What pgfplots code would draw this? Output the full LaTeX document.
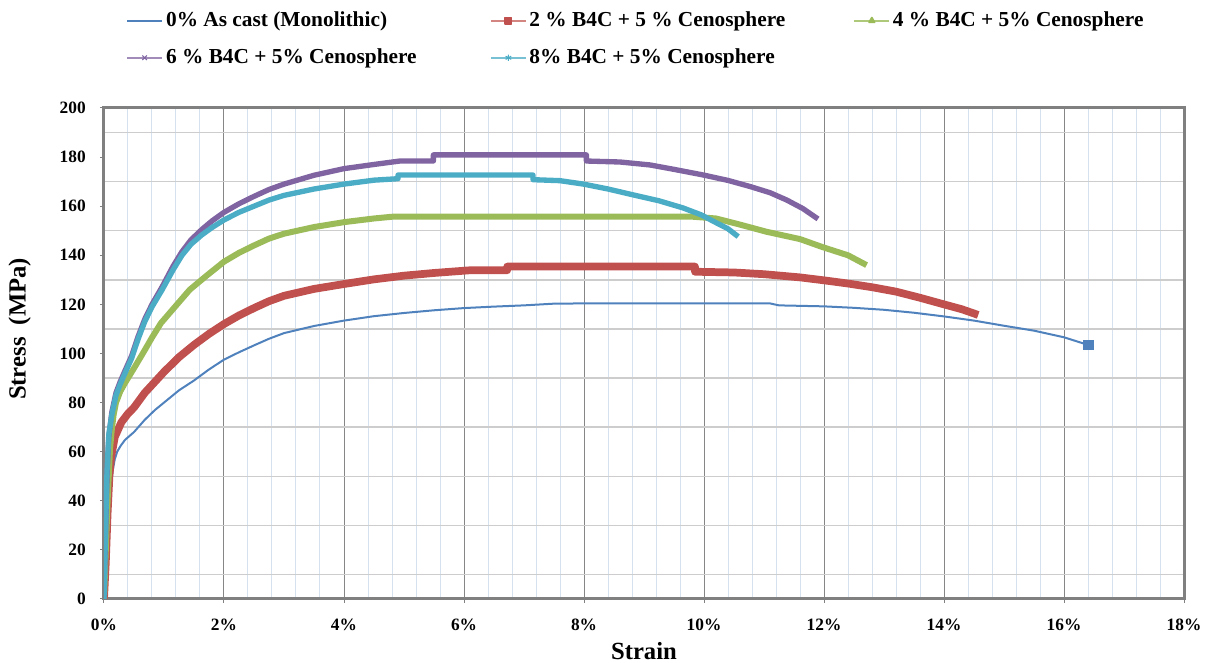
\documentclass[border=0pt]{standalone}
\usepackage{fontspec}
\setmainfont{Liberation Serif}
\usepackage{pgfplots}
\pgfplotsset{compat=1.18}
\definecolor{cBlue}{HTML}{4F81BD}
\definecolor{cRed}{HTML}{C0504D}
\definecolor{cGreen}{HTML}{9BBB59}
\definecolor{cPurple}{HTML}{8064A2}
\definecolor{cCyan}{HTML}{4BACC6}
\definecolor{gridDark}{RGB}{134,134,134}
\definecolor{gridBlue}{RGB}{214,225,240}
\definecolor{gridGray}{RGB}{205,205,205}
\definecolor{frameGray}{RGB}{128,128,128}
\begin{document}
\begin{tikzpicture}
\path[use as bounding box] (-78pt,-48pt) rectangle (827.25pt,449.25pt);
\begin{axis}[
  scale only axis, width=810pt, height=368.25pt,
  xmin=0, xmax=18, ymin=0, ymax=200,
  xtick={0,2,...,18}, ytick={0,20,...,200},
  minor x tick num=4, minor y tick num=1,
  xmajorgrids, xminorgrids, yminorgrids,
  major x grid style={draw=gridDark, line width=0.75pt},
  minor x grid style={draw=gridBlue, line width=0.75pt},
  minor y grid style={draw=gridGray, line width=1.1pt},
  axis line style={draw=frameGray, line width=2.25pt},
  tick pos=left, tick align=outside, major tick length=3pt, minor tick length=0pt,
  every tick/.style={draw=frameGray, line width=0.75pt},
  /pgf/number format/assume math mode=true,
  xticklabel={\pgfmathprintnumber{\tick}\%},
  ticklabel style={font=\bfseries\fontsize{13}{15}\selectfont},
  xticklabel style={anchor=base, yshift=-21pt},
  yticklabel style={anchor=east, inner sep=0pt, xshift=-10.5pt},
  xlabel={Strain}, ylabel={Stress~~(MPa)},
  label style={font=\bfseries\fontsize{18.5}{21}\selectfont},
  xlabel style={at={(axis description cs:0.5,0)}, anchor=base, yshift=-45.75pt},
  ylabel style={at={(axis description cs:-0.078,0.55)}, anchor=center},
  legend columns=3, legend cell align=left,
  legend style={draw=none, fill=none, at={(axis description cs:0.0204,1.198)}, anchor=north west,
    inner sep=0pt, outer sep=0pt, row sep=12.75pt, column sep=0pt,
    font=\bfseries\fontsize{16}{19}\selectfont,
    nodes={inner sep=0pt, text height=11.5pt, text depth=3.5pt},
    /tikz/every odd column/.append style={column sep=2pt}},
]
\addplot[cBlue, line width=1.5pt, line join=round,
  legend image code/.code={\draw[cBlue, line width=1.8pt] (0pt,0pt) -- (26.25pt,0pt);}]
coordinates {(0,0) (0.03,12) (0.06,28) (0.09,40) (0.12,48) (0.15,53) (0.18,57) (0.22,60) (0.28,62.5) (0.35,64.8) (0.5,68) (0.68,73) (0.85,77) (1.0,80) (1.25,85) (1.5,89) (1.75,93.5) (2.0,97.5) (2.25,100.5) (2.5,103.3) (2.75,106) (3.0,108.3) (3.5,111.2) (4.0,113.4) (4.5,115.2) (5.0,116.5) (5.5,117.6) (6.0,118.5) (6.5,119.1) (7.0,119.6) (7.5,120.3) (8.0,120.4) (11.1,120.4) (11.25,119.6) (12.0,119.2) (12.5,118.6) (13.0,117.8) (13.5,116.6) (14.0,115.1) (14.5,113.4) (15.0,111.3) (15.5,109.3) (16.0,106.6) (16.4,103.5)};
\addlegendentry{\makebox[243pt][l]{0\% As cast (Monolithic)}}
\addplot[cBlue, only marks, mark=square*, mark size=3.6pt, forget plot] coordinates {(16.4,103.5)};
\addplot[cRed, line width=5.8pt, line join=round,
  legend image code/.code={\draw[cRed!70, line width=1.3pt, mark=square*, mark repeat=2, mark phase=2, mark size=2.4pt, mark options={fill=cRed, draw=cRed}] plot coordinates {(0pt,0pt) (13.1pt,0pt) (26.25pt,0pt)};}]
coordinates {(0,0) (0.03,15) (0.06,35) (0.09,50) (0.12,58) (0.15,62) (0.18,66) (0.29,72) (0.4,75.5) (0.5,78) (0.68,84) (0.85,88.5) (1.0,92.5) (1.25,98.5) (1.5,103.5) (1.75,108) (2.0,112) (2.25,115.5) (2.5,118.5) (2.75,121.3) (3.0,123.5) (3.5,126.3) (4.0,128.3) (4.5,130.2) (5.0,131.7) (5.5,132.8) (6.1,133.9) (6.72,133.9) (6.72,135.4) (9.85,135.4) (9.85,133.3) (10.5,133) (11.0,132.3) (11.6,131) (12.0,129.8) (12.4,128.5) (12.8,127) (13.2,125.2) (13.6,122.7) (14.0,120) (14.3,118) (14.57,115.7)};
\addlegendentry{\makebox[243pt][l]{2 \% B4C + 5 \% Cenosphere}}
\addplot[cGreen, line width=4.5pt, line join=round,
  legend image code/.code={\draw[cGreen!80, line width=1.3pt, mark=triangle*, mark repeat=2, mark phase=2, mark size=2.4pt, mark options={fill=cGreen, draw=cGreen}] plot coordinates {(0pt,0pt) (13.1pt,0pt) (26.25pt,0pt)};}]
coordinates {(0,0) (0.03,20) (0.06,40) (0.1,61) (0.13,69) (0.16,75) (0.2,80) (0.27,84.5) (0.35,88) (0.5,94) (0.68,101.4) (0.8,106.5) (0.95,112.4) (1.2,119.5) (1.43,126) (1.7,131.5) (2.0,137.4) (2.25,141) (2.5,144) (2.75,146.8) (3.0,148.8) (3.5,151.5) (4.0,153.5) (4.5,155) (4.8,155.7) (9.82,155.7) (10.2,155) (10.6,152.5) (11.04,149.6) (11.6,146.6) (11.98,143.3) (12.4,140) (12.71,136)};
\addlegendentry{\makebox[243pt][l]{4 \% B4C + 5\% Cenosphere}}
\addplot[cPurple, line width=4pt, line join=round,
  legend image code/.code={\draw[cPurple!75, line width=1.3pt, mark=x, mark repeat=2, mark phase=2, mark size=2.4pt, mark options={draw=cPurple, line width=0.8pt}] plot coordinates {(0pt,0pt) (13.1pt,0pt) (26.25pt,0pt)};}]
coordinates {(0,0) (0.02,20) (0.05,50) (0.08,66) (0.13,76) (0.2,84) (0.27,88.5) (0.35,93) (0.46,99) (0.57,107) (0.68,114) (0.8,120) (0.97,127.2) (1.15,135.5) (1.3,141.5) (1.45,146.3) (1.63,150.5) (1.8,154) (2.0,157.5) (2.25,161) (2.5,164) (2.75,166.8) (3.0,169) (3.5,172.6) (4.0,175.3) (4.5,177) (4.93,178.4) (5.49,178.4) (5.49,180.9) (8.04,180.9) (8.04,178.4) (8.6,178) (9.1,176.8) (9.5,175) (9.99,172.7) (10.4,170.5) (10.77,168) (11.1,165.5) (11.38,162.5) (11.65,159) (11.9,154.8)};
\addlegendentry{\makebox[243pt][l]{6 \% B4C + 5\% Cenosphere}}
\addplot[cCyan, line width=4pt, line join=round,
  legend image code/.code={\draw[cCyan!75, line width=1.3pt, mark=asterisk, mark repeat=2, mark phase=2, mark size=2.4pt, mark options={draw=cCyan, line width=0.8pt}] plot coordinates {(0pt,0pt) (13.1pt,0pt) (26.25pt,0pt)};}]
coordinates {(0,0) (0.02,22) (0.05,52) (0.08,67) (0.13,75) (0.2,83) (0.27,87.5) (0.35,92) (0.46,98) (0.57,106) (0.68,113) (0.8,119) (0.97,126) (1.15,134) (1.3,140) (1.45,144.5) (1.63,148.3) (1.8,151.3) (2.0,154.4) (2.25,157.5) (2.5,160) (2.75,162.5) (3.0,164.4) (3.5,167) (4.0,169) (4.5,170.6) (4.9,171.2) (4.9,172.7) (7.15,172.7) (7.15,170.8) (7.6,170.4) (7.99,169) (8.4,167) (8.82,164.6) (9.25,162.2) (9.65,159.3) (9.95,156.5) (10.2,153.3) (10.4,150.8) (10.57,147.6)};
\addlegendentry{\makebox[243pt][l]{8\% B4C + 5\% Cenosphere}}
\end{axis}
\end{tikzpicture}
\end{document}
